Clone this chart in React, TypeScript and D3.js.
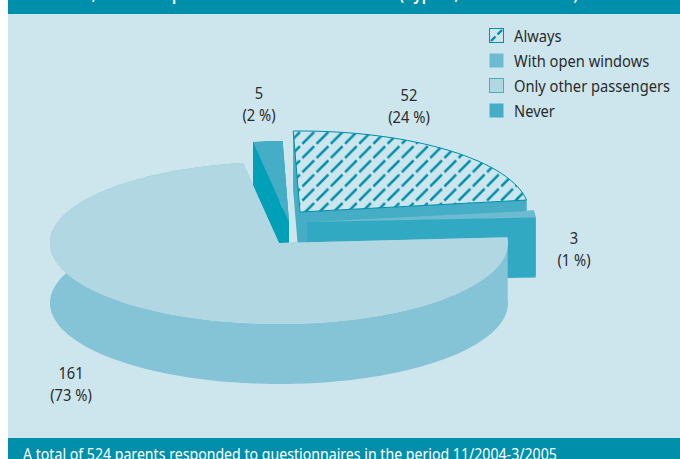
import React from "react";
import * as d3 from "d3";

// Survey answers, in the order the slices run clockwise from the right-hand edge.
const answers = ["Only other passengers", "Never", "Always", "With open windows"];
const counts = [161, 5, 52, 3];
const legendOrder = ["Always", "With open windows", "Only other passengers", "Never"];
const heading = "Smoke in cars, when the parents who smoke drive a car (Cyprus, 11/2004-3/2005)";
const footnote = "A total of 524 parents responded to questionnaires in the period 11/2004-3/2005";

const WIDTH = 680;
const HEIGHT = 459;
const BAND = "#008fab";
const PANEL = "#cde6ee";
const INK = "#2b2b2b";
const FONT = "'Noto Sans', sans-serif";
const SQUEEZE = 0.89;

// Tilted-disc projection.
const RX = 229;
const RY = 81;
const DEPTH = 60;
const deg = Math.PI / 180;

type Look = {
  top: string;
  side: string;
  cx: number;
  cy: number;
  startShift: number;
  endShift: number;
  label: [number, number];
};

const looks: Record<string, Look> = {
  "Only other passengers": { top: "#b0d7e2", side: "#85c3d6", cx: 279, cy: 243, startShift: 0, endShift: 2.7, label: [71, 373] },
  Never: { top: "#45adc5", side: "#00a0b8", cx: 289, cy: 222, startShift: 2.7, endShift: 2, label: [259, 93] },
  Always: { top: PANEL, side: "#45adc5", cx: 300, cy: 212, startShift: 1.9, endShift: 0.4, label: [409, 95] },
  "With open windows": { top: "#6cbbd0", side: "#31a9c2", cx: 307, cy: 222, startShift: 0.8, endShift: 0.8, label: [574, 238] },
};

const pieLayout = d3
  .pie<number>()
  .sort(null)
  .startAngle(86 * deg)
  .endAngle(446 * deg);
const arcs = pieLayout(counts);
const total = d3.sum(counts);

const line = d3.line<[number, number]>();

function rim(look: Look, a0: number, a1: number): [number, number][] {
  const steps = Math.max(2, Math.ceil((a1 - a0) / (2 * deg)));
  return d3.range(steps + 1).map((i) => {
    const a = a0 + ((a1 - a0) * i) / steps;
    return [look.cx + RX * Math.sin(a), look.cy - RY * Math.cos(a)] as [number, number];
  });
}

const shifted = (pts: [number, number][], dy: number) =>
  pts.map(([x, y]) => [x, y + dy] as [number, number]);

function Slice({ name, a0, a1 }: { name: string; a0: number; a1: number }) {
  const look = looks[name];
  const start = a0 + look.startShift * deg;
  const end = a1 + look.endShift * deg;
  const edge = rim(look, start, end);
  const tip: [number, number] = [look.cx, look.cy];
  const first = edge[0];
  const last = edge[edge.length - 1];
  const band = [...edge, ...shifted(edge, DEPTH).reverse()];
  const cutA = [tip, first, [first[0], first[1] + DEPTH], [tip[0], tip[1] + DEPTH]] as [number, number][];
  const cutB = [tip, last, [last[0], last[1] + DEPTH], [tip[0], tip[1] + DEPTH]] as [number, number][];
  const face = [tip, ...edge];
  const hatched = name === "Always";
  return (
    <g>
      <path d={line(cutA) + "Z"} fill={look.side} />
      <path d={line(cutB) + "Z"} fill={look.side} />
      <path d={line(band) + "Z"} fill={look.side} />
      <path d={line(face) + "Z"} fill={look.top} />
      {hatched && (
        <path d={line(face) + "Z"} fill="url(#diagonal-hatch)" stroke={BAND} strokeWidth={1} strokeLinejoin="round" />
      )}
    </g>
  );
}

// Text set in a narrower cut than the installed face offers.
function Narrow({ x, y, size, fill, anchor, weight, squeeze, children }: {
  x: number;
  y: number;
  size: number;
  fill: string;
  anchor?: "start" | "middle" | "end";
  weight?: number;
  squeeze?: number;
  children: React.ReactNode;
}) {
  return (
    <text
      transform={`translate(${x},${y}) scale(${squeeze ?? SQUEEZE},1)`}
      textAnchor={anchor ?? "start"}
      fontSize={size}
      fontWeight={weight ?? 400}
      fill={fill}
    >
      {children}
    </text>
  );
}

function ValueLabel({ name, value }: { name: string; value: number }) {
  const [x, y] = looks[name].label;
  const pct = d3.format(".0f")((value / total) * 100);
  return (
    <g>
      <Narrow x={x} y={y + 6} size={16.5} fill={INK} anchor="middle">{value}</Narrow>
      <Narrow x={x} y={y + 28} size={16.5} fill={INK} anchor="middle">{`(${pct} %)`}</Narrow>
    </g>
  );
}

export default function App() {
  const legendY = d3.scalePoint<string>().domain(legendOrder).range([28, 103]);
  // Painted back to front so the large slice hides the cut walls behind it.
  const paintOrder = ["Never", "Always", "With open windows", "Only other passengers"];
  const byName = new Map(answers.map((a, i) => [a, arcs[i]]));

  return (
    <svg
      width={WIDTH}
      height={HEIGHT}
      viewBox={`0 0 ${WIDTH} ${HEIGHT}`}
      style={{ position: "absolute", left: 0, top: 0, fontFamily: FONT }}
    >
      <defs>
        <pattern id="diagonal-hatch" patternUnits="userSpaceOnUse" width={14.2} height={14.2} x={3} y={3}>
          <line x1={1.2} y1={13} x2={13} y2={1.2} stroke={BAND} strokeWidth={2.4} />
        </pattern>
        <pattern id="legend-hatch" patternUnits="userSpaceOnUse" width={15} height={15} x={489} y={28}>
          <line x1={2} y1={13} x2={6.5} y2={8.5} stroke={BAND} strokeWidth={2.4} />
          <line x1={8.5} y1={6.5} x2={13} y2={2} stroke={BAND} strokeWidth={2.4} />
        </pattern>
      </defs>

      <rect x={8} y={0} width={WIDTH - 8} height={HEIGHT} fill={PANEL} />
      <rect x={8} y={0} width={WIDTH - 8} height={14} fill={BAND} />
      <rect x={8} y={438} width={WIDTH - 8} height={HEIGHT - 438} fill={BAND} />

      <Narrow x={578} y={-0.5} size={18} weight={600} squeeze={0.83} fill="#fff" anchor="end">{heading}</Narrow>
      <Narrow x={23} y={459.5} size={15.8} squeeze={0.895} fill="#fff">{footnote}</Narrow>

      {paintOrder.map((name) => {
        const arc = byName.get(name)!;
        return <Slice key={name} name={name} a0={arc.startAngle} a1={arc.endAngle} />;
      })}

      {answers.map((name, i) => (
        <ValueLabel key={name} name={name} value={counts[i]} />
      ))}

      {legendOrder.map((name) => {
        const y = legendY(name)!;
        const look = looks[name];
        const hatched = name === "Always";
        const outlined = name === "Only other passengers";
        return (
          <g key={name}>
            <rect
              x={489.5}
              y={y + 0.5}
              width={14}
              height={14}
              fill={hatched ? PANEL : look.top}
              stroke={hatched ? BAND : outlined ? "#45adc5" : "none"}
            />
            {hatched && <rect x={489.5} y={y + 0.5} width={14} height={14} fill="url(#legend-hatch)" />}
            <Narrow x={514} y={y + 14} size={16.5} fill={INK}>{name}</Narrow>
          </g>
        );
      })}
    </svg>
  );
}
